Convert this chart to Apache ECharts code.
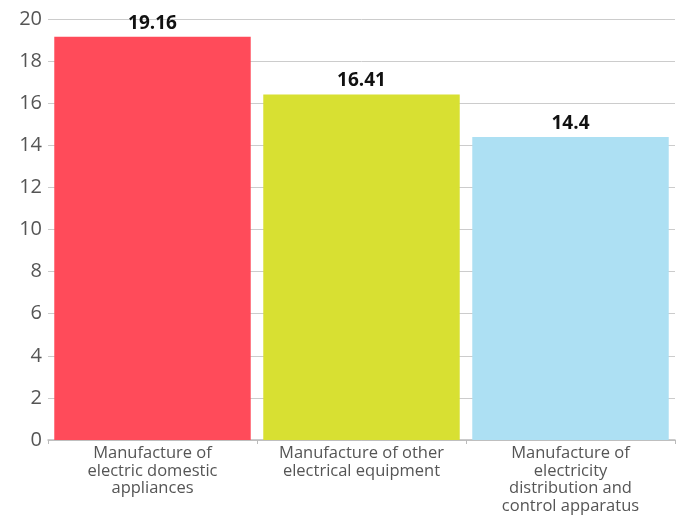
<!DOCTYPE html>
<html>
<head>
<meta charset="utf-8">
<script src="https://cdn.jsdelivr.net/npm/echarts@6/dist/echarts.min.js"></script>
<style>
  html, body { margin: 0; padding: 0; background: #fff; }
  #chart { width: 679px; height: 515px; }
</style>
</head>
<body>
<div id="chart"></div>
<script>
// categories (line breaks as in the picture)
const categories = [
  'Manufacture of\nelectric domestic\nappliances',
  'Manufacture of other\nelectrical equipment',
  'Manufacture of\nelectricity\ndistribution and\ncontrol apparatus'
]
const values = [19.16, 16.41, 14.4]
const barColors = ['#ff4b5a', '#d8e032', '#ade0f3']

const font = "'Open Sans', 'Noto Sans', sans-serif"

let myChart = echarts.init(document.getElementById('chart'))
let option = {
  animation: false,
  textStyle: { fontFamily: font },
  grid: { left: 48, right: 4, top: 19, bottom: 75, containLabel: false },
  xAxis: {
    type: 'category',
    data: categories,
    axisLine: { lineStyle: { color: '#bbbbbb', width: 1.5 } },
    axisTick: { show: true, length: 4, lineStyle: { color: '#bbbbbb' } },
    axisLabel: {
      color: '#555555',
      fontSize: 16.5,
      lineHeight: 17.5,
      margin: 5,
      interval: 0,
      fontFamily: font
    }
  },
  yAxis: {
    type: 'value',
    min: 0,
    max: 20,
    interval: 2,
    axisLine: { show: false },
    axisTick: { show: false },
    splitLine: { lineStyle: { color: '#cccccc', width: 1 } },
    axisLabel: { color: '#555555', fontSize: 20, margin: 6, fontFamily: font }
  },
  series: [
    {
      type: 'bar',
      data: values.map((v, i) => ({ value: v, itemStyle: { color: barColors[i] } })),
      barCategoryGap: '6%',
      label: {
        show: true,
        position: 'top',
        distance: 4,
        color: '#111111',
        fontSize: 19,
        fontWeight: 'bold',
        fontFamily: font
      }
    }
  ]
}
myChart.setOption(option)
</script>
</body>
</html>
